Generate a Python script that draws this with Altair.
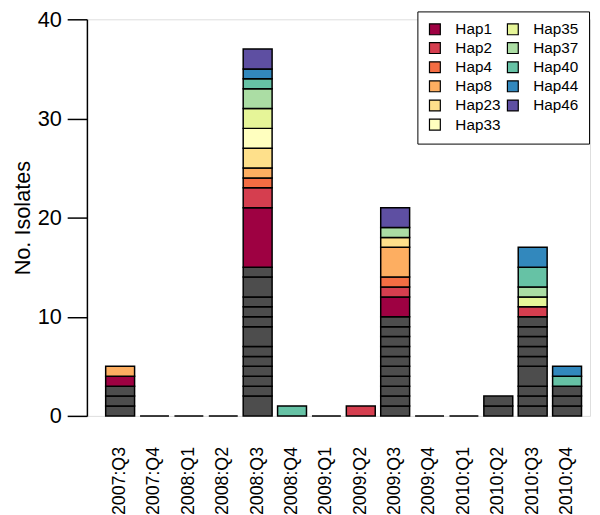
import altair as alt
import pandas as pd

quarters = ["2007:Q3", "2007:Q4", "2008:Q1", "2008:Q2", "2008:Q3", "2008:Q4", "2009:Q1",
            "2009:Q2", "2009:Q3", "2009:Q4", "2010:Q1", "2010:Q2", "2010:Q3", "2010:Q4"]

# unassigned (grey) isolate boxes per quarter, listed bottom to top
grey_boxes = [
    [1, 1, 1], [], [], [],
    [2, 1, 1, 1, 1, 1, 2, 1, 1, 1, 2, 1],
    [], [], [],
    [1, 1, 1, 1, 1, 1, 1, 1, 1, 1],
    [], [],
    [1, 1],
    [1, 1, 1, 2, 1, 1, 1, 1, 1],
    [1, 1, 1],
]

haplotypes = ["Hap1", "Hap2", "Hap4", "Hap8", "Hap23", "Hap33",
              "Hap35", "Hap37", "Hap40", "Hap44", "Hap46"]
hap_colors = ["#9E0142", "#D53E4F", "#F46D43", "#FDAE61", "#FEE08B", "#FFFFBF",
              "#E6F598", "#ABDDA4", "#66C2A5", "#3288BD", "#5E4FA2"]
grey_color = "#4D4D4D"

hap1 = [1, 0, 0, 0, 6, 0, 0, 0, 2, 0, 0, 0, 0, 0]
hap2 = [0, 0, 0, 0, 2, 0, 0, 1, 1, 0, 0, 0, 1, 0]
hap4 = [0, 0, 0, 0, 1, 0, 0, 0, 1, 0, 0, 0, 0, 0]
hap8 = [1, 0, 0, 0, 1, 0, 0, 0, 3, 0, 0, 0, 0, 0]
hap23 = [0, 0, 0, 0, 2, 0, 0, 0, 1, 0, 0, 0, 0, 0]
hap33 = [0, 0, 0, 0, 2, 0, 0, 0, 0, 0, 0, 0, 0, 0]
hap35 = [0, 0, 0, 0, 2, 0, 0, 0, 0, 0, 0, 0, 1, 0]
hap37 = [0, 0, 0, 0, 2, 0, 0, 0, 1, 0, 0, 0, 1, 0]
hap40 = [0, 0, 0, 0, 1, 1, 0, 0, 0, 0, 0, 0, 2, 1]
hap44 = [0, 0, 0, 0, 1, 0, 0, 0, 0, 0, 0, 0, 2, 1]
hap46 = [0, 0, 0, 0, 2, 0, 0, 0, 2, 0, 0, 0, 0, 0]

hap_counts = [hap1, hap2, hap4, hap8, hap23, hap33, hap35, hap37, hap40, hap44, hap46]

rows, zero_rows = [], []
for i, q in enumerate(quarters):
    base = 0
    for c in grey_boxes[i]:
        rows.append({"quarter": q, "hap": "Other", "y0": base, "y1": base + c})
        base += c
    for h, counts in zip(haplotypes, hap_counts):
        if counts[i] > 0:
            rows.append({"quarter": q, "hap": h, "y0": base, "y1": base + counts[i]})
            base += counts[i]
    if base == 0:
        zero_rows.append({"quarter": q, "y0": 0, "y1": 0})

df = pd.DataFrame(rows)
dz = pd.DataFrame(zero_rows)

FONT = "Liberation Sans"

xscale = alt.Scale(domain=quarters, paddingInner=0.159, paddingOuter=0.3965, align=0.688, round=False)
xaxis = alt.Axis(labelAngle=270, domain=False, ticks=False, tickSize=0, labelPadding=31,
                 labelFont=FONT, labelFontSize=18, labelColor="black", title=None)
yaxis = alt.Axis(values=[0, 10, 20, 30, 40], grid=False, domainColor="black", domainWidth=1.5,
                 tickColor="black", tickWidth=1.5, tickSize=20, labelPadding=6,
                 labelFont=FONT, labelFontSize=22, labelColor="black",
                 titleFont=FONT, titleFontSize=22, titleFontWeight="normal",
                 titleColor="black", titlePadding=3)

bars = alt.Chart(df).mark_bar(stroke="black", strokeWidth=1.5, opacity=1).encode(
    x=alt.X("quarter:N", sort=quarters, scale=xscale, axis=xaxis),
    y=alt.Y("y0:Q", scale=alt.Scale(domain=[0, 40], nice=False), axis=yaxis, title="No. Isolates"),
    y2="y1:Q",
    color=alt.Color(
        "hap:N",
        scale=alt.Scale(domain=haplotypes + ["Other"], range=hap_colors + [grey_color]),
        legend=alt.Legend(
            title=None, orient="none", legendX=335, legendY=-8, columns=2,
            values=haplotypes, symbolType="square", symbolSize=121,
            symbolStrokeColor="black", symbolStrokeWidth=1.2, symbolOpacity=1,
            labelFont=FONT, labelFontSize=15.5, labelColor="black", labelOffset=13,
            columnPadding=3, rowPadding=1.4, padding=10,
            strokeColor="black", fillColor="white",
        ),
    ),
)

zeros = alt.Chart(dz).mark_bar(stroke="black", strokeWidth=1.5, fill="white").encode(
    x=alt.X("quarter:N", sort=quarters, scale=xscale, axis=xaxis),
    y=alt.Y("y0:Q"),
    y2="y1:Q",
)

chart = alt.layer(bars, zeros).properties(
    width=510, height=402,
    autosize=alt.AutoSizeParams(type="none"),
    padding={"left": 80, "top": 8, "right": 2, "bottom": 97},
).configure_view(strokeWidth=0).configure(background="white")

chart.save("out.html", embed_options={"renderer": "svg", "actions": False})
